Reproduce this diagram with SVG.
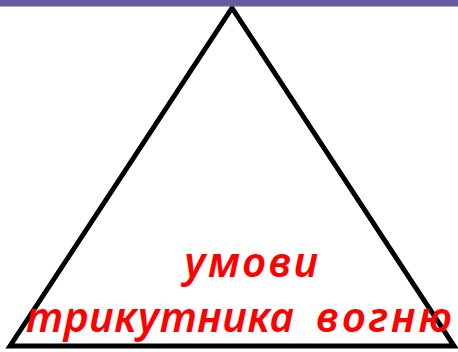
<svg xmlns="http://www.w3.org/2000/svg" width="458" height="352" viewBox="0 0 458 352">
<style>
.lbl{font-family:"Noto Sans","DejaVu Sans",sans-serif;font-weight:600;font-style:italic;font-size:42px;fill:#ff0000}
</style>
<rect x="0" y="0" width="458" height="352" fill="#ffffff"/>
<g id="triangle">
<polygon points="10,346 232,8 454,346" fill="none" stroke="#000000" stroke-width="5" stroke-linejoin="miter"/>
</g>
<rect id="topbar" x="0" y="0" width="458" height="6.5" fill="#6a5aa0"/>
<g id="labels">
<text class="lbl" x="184" y="277" textLength="134" lengthAdjust="spacing">умови</text>
<text class="lbl" x="26" y="332"><tspan textLength="268" lengthAdjust="spacing">трикутника</tspan><tspan x="316" textLength="136" lengthAdjust="spacing">вогню</tspan></text>
</g>
</svg>
